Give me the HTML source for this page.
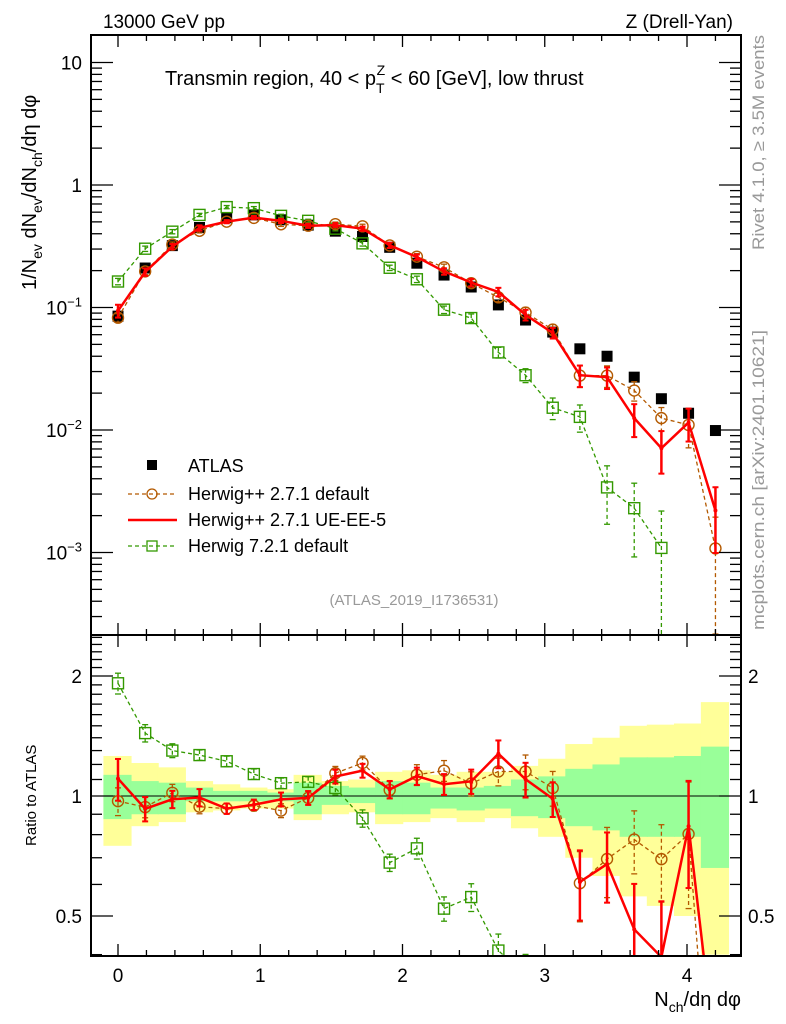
<!DOCTYPE html>
<html><head><meta charset="utf-8"><style>
html,body{margin:0;padding:0;background:#fff;width:786px;height:1024px;overflow:hidden;}
svg{display:block;font-family:"Liberation Sans",Arial,sans-serif;}
</style></head><body>
<svg id="chart" width="786" height="1024" viewBox="0 0 786 1024" xmlns="http://www.w3.org/2000/svg">
<g id="bands"></g>
<g id="marks"></g>
<g id="axes"></g>
<text x="103" y="28" font-size="19" textLength="122" lengthAdjust="spacingAndGlyphs">13000 GeV pp</text>
<text x="733" y="28" font-size="19" text-anchor="end">Z (Drell-Yan)</text>
<text x="165" y="85" font-size="20">Transmin region, 40 &lt; p<tspan dy="8" font-size="14">T</tspan><tspan dx="-8" dy="-18" font-size="14">Z</tspan><tspan dy="10"> &lt; 60 [GeV], low thrust</tspan></text>
<text transform="translate(36,290) rotate(-90)" font-size="20">1/N<tspan dy="6" font-size="14">ev</tspan><tspan dy="-6"> dN</tspan><tspan dy="6" font-size="14">ev</tspan><tspan dy="-6">/dN</tspan><tspan dy="6" font-size="14">ch</tspan><tspan dy="-6">/dη dφ</tspan></text>
<text transform="translate(36,846) rotate(-90)" font-size="15">Ratio to ATLAS</text>
<text x="741" y="1006" font-size="20" text-anchor="end">N<tspan dy="6" font-size="14">ch</tspan><tspan dy="-6">/dη dφ</tspan></text>
<text transform="translate(764,250) rotate(-90)" font-size="17" fill="#999" textLength="215" lengthAdjust="spacingAndGlyphs">Rivet 4.1.0, ≥ 3.5M events</text>
<text transform="translate(764,630) rotate(-90)" font-size="17" fill="#999" textLength="300" lengthAdjust="spacingAndGlyphs">mcplots.cern.ch [arXiv:2401.10621]</text>
<text x="414" y="605" font-size="15" fill="#999" text-anchor="middle">(ATLAS_2019_I1736531)</text>
<g>
<rect x="147" y="460" width="10" height="10" fill="#000"/>
<text x="188" y="472" font-size="18">ATLAS</text>
<line x1="128" y1="494" x2="175" y2="494" stroke="#b35900" stroke-width="1.3" stroke-dasharray="4,3"/>
<circle cx="152" cy="494" r="5" fill="none" stroke="#b35900" stroke-width="1.3"/>
<text x="188" y="500" font-size="18">Herwig++ 2.7.1 default</text>
<line x1="128" y1="520" x2="177" y2="520" stroke="#f00" stroke-width="2.5"/>
<text x="188" y="526" font-size="18">Herwig++ 2.7.1 UE-EE-5</text>
<line x1="128" y1="546" x2="175" y2="546" stroke="#339900" stroke-width="1.3" stroke-dasharray="4,3"/>
<rect x="147" y="541" width="10" height="10" fill="none" stroke="#339900" stroke-width="1.3"/>
<text x="188" y="552" font-size="18">Herwig 7.2.1 default</text>
</g>
</svg>
<script>
const xVals = [0,0.191,0.382,0.573,0.764,0.955,1.146,1.337,1.528,1.719,1.91,2.101,2.292,2.483,2.674,2.865,3.056,3.247,3.438,3.629,3.82,4.011,4.2];
const atlas = [0.085,0.21,0.32,0.45,0.54,0.57,0.52,0.47,0.42,0.38,0.31,0.23,0.184,0.147,0.105,0.079,0.063,0.046,0.040,0.027,0.018,0.0137,0.0099];
const herwigDefault = [0.0825,0.197,0.326,0.423,0.502,0.539,0.478,0.465,0.479,0.46,0.321,0.26,0.213,0.158,0.121,0.091,0.066,0.0278,0.0278,0.021,0.0125,0.011,0.00108];
const herwigDefaultErr = [0.08,0.06,0.05,0.04,0.03,0.03,0.04,0.04,0.04,0.04,0.05,0.06,0.06,0.07,0.08,0.1,0.1,0.2,0.2,0.18,0.22,0.35,0.8];
const herwigUE = [0.094,0.195,0.314,0.446,0.502,0.542,0.51,0.465,0.47,0.44,0.322,0.258,0.197,0.16,0.134,0.087,0.062,0.028,0.027,0.0125,0.0071,0.0115,0.0022];
const herwigUEErr = [0.12,0.07,0.05,0.05,0.03,0.03,0.04,0.04,0.04,0.04,0.05,0.05,0.06,0.07,0.08,0.1,0.1,0.2,0.2,0.3,0.38,0.3,0.55];
const herwig7 = [0.163,0.302,0.416,0.57,0.66,0.647,0.56,0.51,0.44,0.334,0.211,0.17,0.096,0.082,0.043,0.028,0.0152,0.0128,0.0034,0.0023,0.00109];
const herwig7Err = [0.06,0.05,0.04,0.03,0.03,0.03,0.03,0.03,0.04,0.05,0.05,0.06,0.07,0.08,0.1,0.13,0.2,0.25,0.5,0.6,1.0];
const bandGreenUp = [1.13,1.09,1.08,1.05,1.03,1.03,1.02,1.08,1.06,1.05,1.09,1.08,1.05,1.05,1.06,1.10,1.12,1.17,1.20,1.25,1.25,1.26,1.33];
const bandGreenLo = [0.875,0.90,0.90,0.97,0.97,0.97,0.97,0.90,0.95,0.96,0.90,0.90,0.93,0.92,0.93,0.89,0.88,0.84,0.82,0.79,0.79,0.79,0.66];
const bandYellowUp = [1.26,1.21,1.18,1.09,1.07,1.05,1.04,1.13,1.09,1.10,1.15,1.16,1.13,1.15,1.15,1.19,1.24,1.35,1.40,1.50,1.51,1.52,1.72];
const bandYellowLo = [0.75,0.84,0.86,0.91,0.92,0.93,0.93,0.87,0.90,0.91,0.85,0.86,0.88,0.86,0.88,0.83,0.79,0.70,0.63,0.56,0.53,0.50,0.40];
const xTicks = [0,1,2,3,4];
const mainTicks = [10,1,0.1,0.01,0.001];
const mainTickLabels = ["10","1","10<tspan dy='-8' font-size='13'>−1</tspan>","10<tspan dy='-8' font-size='13'>−2</tspan>","10<tspan dy='-8' font-size='13'>−3</tspan>"];
const ratioTicks = [0.5,1,2];
const ratioTickLabels = ["0.5","1","2"];

const L=91,R=741,T=35,MID=635,B=956;
const X=v=>118+v*142.25;
const Y=v=>185-Math.log10(v)*122.5;
const RY=r=>796-Math.log2(r)*120;
const NS="http://www.w3.org/2000/svg";
function mk(tag,attrs,parent){const e=document.createElementNS(NS,tag);for(const k in attrs)e.setAttribute(k,attrs[k]);parent.appendChild(e);return e;}
const bands=document.getElementById('bands'),marks=document.getElementById('marks'),axes=document.getElementById('axes');
const half=(X(xVals[1])-X(xVals[0]))/2;
const clipR=(y)=>Math.max(MID,Math.min(B,y));
xVals.forEach((x,i)=>{
  const y1=mk('rect',{x:X(x)-half-1,y:clipR(RY(bandYellowUp[i])),width:2*half+1,height:clipR(RY(bandYellowLo[i]))-clipR(RY(bandYellowUp[i])),fill:'#ffff99'},bands);
  
  
});
xVals.forEach((x,i)=>{
  const g=mk('rect',{x:X(x)-half-1,y:RY(bandGreenUp[i]),width:2*half+1,height:RY(bandGreenLo[i])-RY(bandGreenUp[i]),fill:'#99ff99'},bands);
  
  
});
const one=mk('line',{x1:L,x2:R,y1:RY(1),y2:RY(1),stroke:'#000','stroke-width':1},bands);



const defs=mk('defs',{},document.getElementById('chart'));
const c1=mk('clipPath',{id:'cm'},defs);mk('rect',{x:L,y:T,width:R-L,height:MID-T},c1);
const c2=mk('clipPath',{id:'cr'},defs);mk('rect',{x:L,y:MID,width:R-L,height:B-MID},c2);
const gm=mk('g',{'clip-path':'url(#cm)'},marks);
const gr=mk('g',{'clip-path':'url(#cr)'},marks);

function series(vals,errs,color,width,dash,marker,name){
  [[gm,Y],[gr,RY]].forEach(([g,yf],pi)=>{
    const pts=vals.map((v,i)=>[X(xVals[i]),pi==0?yf(v):yf(v/atlas[i])]);
    const pl=mk('polyline',{points:pts.map(p=>p.join(',')).join(' '),fill:'none',stroke:color,'stroke-width':width,'stroke-dasharray':dash||'none'},g);
    
    
    vals.forEach((v,i)=>{
      const base=pi==0?v:v/atlas[i];
      const up=yf(base*(1+errs[i])),lo=yf(Math.max(base*(1-errs[i]),1e-6));
      const cx=pts[i][0],cy=pts[i][1];
      const e=mk('line',{x1:cx,x2:cx,y1:up,y2:lo,stroke:color,'stroke-width':width,'stroke-dasharray':dash||'none'},g);
      
      
      mk('line',{x1:cx-3,x2:cx+3,y1:up,y2:up,stroke:color,'stroke-width':width>2?2:1.3},g);
      mk('line',{x1:cx-3,x2:cx+3,y1:lo,y2:lo,stroke:color,'stroke-width':width>2?2:1.3},g);
      let m;
      if(marker==='circle') m=mk('circle',{cx:cx,cy:cy,r:5.5,fill:'none',stroke:color,'stroke-width':1.4},g);
      else if(marker==='square') m=mk('rect',{x:cx-5.5,y:cy-5.5,width:11,height:11,fill:'none',stroke:color,'stroke-width':1.4},g);
      else m=mk('circle',{cx:cx,cy:cy,r:2,fill:color},g);
      
      
    });
  });
}
atlas.forEach((v,i)=>{
  const r=mk('rect',{x:X(xVals[i])-5.5,y:Y(v)-5.5,width:11,height:11,fill:'#000'},gm);
  
  
});
series(herwig7,herwig7Err,'#339900',1.3,'4,3','square','herwig7-default');
series(herwigDefault,herwigDefaultErr,'#b35900',1.3,'4,3','circle','herwigpp-default');
series(herwigUE,herwigUEErr,'#ff0000',2.5,null,'dot','herwigpp-ueee5');

[[T,MID],[MID,B]].forEach(([t,b],k)=>{
  const f=mk('rect',{x:L,y:t,width:R-L,height:b-t,fill:'none',stroke:'#000','stroke-width':2},axes);
  
  
});
for(let v=-0.2;v<=4.4;v+=0.2){
  const xv=Math.round(v*10)/10; const x=X(xv); if(x<L||x>R) continue;
  const major=Math.abs(xv-Math.round(xv))<1e-6; const len=major?12:6;
  mk('line',{x1:x,x2:x,y1:T,y2:T+len,stroke:'#000','stroke-width':1.3},axes);
  mk('line',{x1:x,x2:x,y1:MID-len,y2:MID+len,stroke:'#000','stroke-width':1.3},axes);
  mk('line',{x1:x,x2:x,y1:B,y2:B-len,stroke:'#000','stroke-width':1.3},axes);
}
xTicks.forEach(v=>{
  const t=mk('text',{x:X(v),y:982,'font-size':19,'text-anchor':'middle'},axes);t.textContent=v;
  
  
});
for(let d=-4;d<=1;d++){for(let m=1;m<=9;m++){const v=m*Math.pow(10,d);const y=Y(v);if(y<T||y>MID)continue;const len=m===1?22:11;
  mk('line',{x1:L,x2:L+len,y1:y,y2:y,stroke:'#000','stroke-width':1.3},axes);
  mk('line',{x1:R,x2:R-len,y1:y,y2:y,stroke:'#000','stroke-width':1.3},axes);}}
mainTicks.forEach((v,i)=>{
  const t=mk('text',{x:82,y:Y(v)+7,'font-size':19,'text-anchor':'end'},axes);t.innerHTML=mainTickLabels[i];
  
  
});
[0.4,0.5,0.6,0.7,0.8,0.9,1,1.1,1.2,1.3,1.4,1.5,1.6,1.7,1.8,1.9,2,2.1,2.2,2.3,2.4,2.5].forEach(v=>{
  const y=RY(v);if(y<MID||y>B)return;const len=(v===0.5||v===1||v===2)?22:11;
  mk('line',{x1:L,x2:L+len,y1:y,y2:y,stroke:'#000','stroke-width':1.3},axes);
  mk('line',{x1:R,x2:R-len,y1:y,y2:y,stroke:'#000','stroke-width':1.3},axes);
});
ratioTicks.forEach((v,i)=>{
  const t=mk('text',{x:82,y:RY(v)+7,'font-size':19,'text-anchor':'end'},axes);t.textContent=ratioTickLabels[i];
  
  
  const t2=mk('text',{x:748,y:RY(v)+7,'font-size':19},axes);t2.textContent=ratioTickLabels[i];
  
  
});
</script>
</body></html>
